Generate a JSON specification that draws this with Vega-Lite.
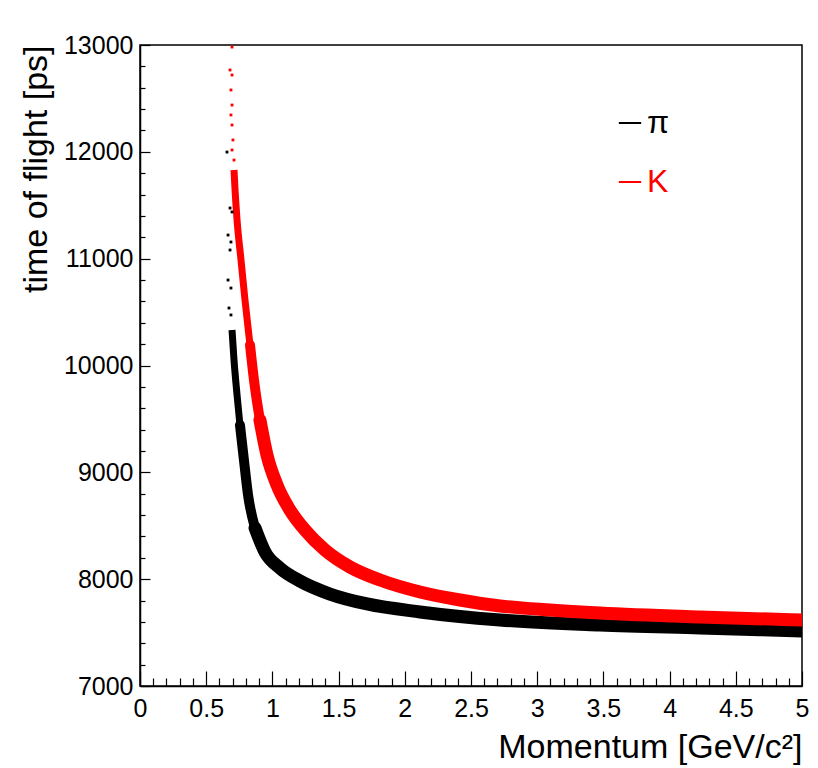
{
  "$schema": "https://vega.github.io/schema/vega-lite/v6.json",
  "autosize": {"type": "none"},
  "width": 662,
  "height": 641,
  "padding": {"left": 140, "top": 45, "right": 16, "bottom": 82},
  "background": "white",
  "view": {"stroke": "black", "strokeWidth": 1.5},
  "config": {
    "font": "Liberation Sans",
    "line": {"interpolate": "monotone", "strokeJoin": "round"},
    "axis": {"grid": false, "domainColor": "black", "domainWidth": 1.5, "tickColor": "black", "tickWidth": 1.2, "labelColor": "black", "titleColor": "black", "labelFont": "Liberation Sans", "titleFont": "Liberation Sans", "titleFontWeight": "normal", "labelFlush": false, "labelOverlap": false}
  },
  "datasets": {
    "band": [
      {"particle": "K", "p": 0.71, "t": 11830},
      {"particle": "K", "p": 0.718, "t": 11643},
      {"particle": "K", "p": 0.733, "t": 11362},
      {"particle": "K", "p": 0.763, "t": 10987},
      {"particle": "K", "p": 0.793, "t": 10613},
      {"particle": "K", "p": 0.831, "t": 10192},
      {"particle": "K", "p": 0.861, "t": 9864},
      {"particle": "K", "p": 0.906, "t": 9490},
      {"particle": "K", "p": 0.959, "t": 9162},
      {"particle": "K", "p": 1.035, "t": 8881},
      {"particle": "K", "p": 1.133, "t": 8647},
      {"particle": "K", "p": 1.246, "t": 8460},
      {"particle": "K", "p": 1.397, "t": 8273},
      {"particle": "K", "p": 1.586, "t": 8114},
      {"particle": "K", "p": 1.813, "t": 7992},
      {"particle": "K", "p": 2.115, "t": 7880},
      {"particle": "K", "p": 2.417, "t": 7805},
      {"particle": "K", "p": 2.719, "t": 7749},
      {"particle": "K", "p": 3.097, "t": 7711},
      {"particle": "K", "p": 3.474, "t": 7683},
      {"particle": "K", "p": 4.23, "t": 7646},
      {"particle": "K", "p": 5.0, "t": 7618},
      {"particle": "π", "p": 0.695, "t": 10332},
      {"particle": "π", "p": 0.71, "t": 10051},
      {"particle": "π", "p": 0.733, "t": 9724},
      {"particle": "π", "p": 0.755, "t": 9443},
      {"particle": "π", "p": 0.785, "t": 9115},
      {"particle": "π", "p": 0.816, "t": 8788},
      {"particle": "π", "p": 0.869, "t": 8479},
      {"particle": "π", "p": 0.944, "t": 8254},
      {"particle": "π", "p": 1.057, "t": 8104},
      {"particle": "π", "p": 1.208, "t": 7983},
      {"particle": "π", "p": 1.435, "t": 7861},
      {"particle": "π", "p": 1.715, "t": 7768},
      {"particle": "π", "p": 2.115, "t": 7693},
      {"particle": "π", "p": 2.719, "t": 7618},
      {"particle": "π", "p": 3.474, "t": 7571},
      {"particle": "π", "p": 4.23, "t": 7543},
      {"particle": "π", "p": 5.0, "t": 7515}
    ],
    "dots": [
      {"particle": "K", "p": 0.695, "t": 12981},
      {"particle": "K", "p": 0.68, "t": 12766},
      {"particle": "K", "p": 0.695, "t": 12719},
      {"particle": "K", "p": 0.687, "t": 12579},
      {"particle": "K", "p": 0.695, "t": 12438},
      {"particle": "K", "p": 0.687, "t": 12345},
      {"particle": "K", "p": 0.695, "t": 12251},
      {"particle": "K", "p": 0.702, "t": 12111},
      {"particle": "K", "p": 0.695, "t": 12017},
      {"particle": "K", "p": 0.71, "t": 11923},
      {"particle": "π", "p": 0.657, "t": 11998},
      {"particle": "π", "p": 0.68, "t": 11474},
      {"particle": "π", "p": 0.695, "t": 11437},
      {"particle": "π", "p": 0.665, "t": 11221},
      {"particle": "π", "p": 0.687, "t": 11156},
      {"particle": "π", "p": 0.68, "t": 11081},
      {"particle": "π", "p": 0.665, "t": 10800},
      {"particle": "π", "p": 0.687, "t": 10725},
      {"particle": "π", "p": 0.672, "t": 10538},
      {"particle": "π", "p": 0.687, "t": 10473}
    ]
  },
  "layer": [
    {
      "data": {"name": "band"},
      "transform": [{"filter": "datum.particle === 'π'"}],
      "mark": {"type": "line", "strokeWidth": 7, "strokeCap": "butt", "clip": true},
      "encoding": {
        "x": {"field": "p", "type": "quantitative", "scale": {"domain": [0, 5], "nice": false, "zero": false},
          "axis": {"orient": "bottom", "values": [0, 0.5, 1, 1.5, 2, 2.5, 3, 3.5, 4, 4.5, 5], "tickSize": -15, "labelPadding": 25, "labelFontSize": 25, "labelExpr": "'' + datum.value", "labelBaseline": "top",
            "title": "Momentum [GeV/c²]", "titleFontSize": 34, "titleAnchor": "end", "titleAlign": "right", "titleBaseline": "alphabetic", "titleX": 662, "titleY": 71}},
        "y": {"field": "t", "type": "quantitative", "scale": {"domain": [7000, 13000], "nice": false, "zero": false},
          "axis": {"orient": "left", "values": [7000, 8000, 9000, 10000, 11000, 12000, 13000], "format": "d", "tickSize": -10, "labelPadding": 17, "labelFontSize": 25, "labelBaseline": "middle",
            "title": "time of flight [ps]", "titleFontSize": 34, "titleAnchor": "end", "titleAlign": "right", "titleBaseline": "alphabetic", "titleAngle": -90, "titleX": -94, "titleY": 0}},
        "color": {"field": "particle", "type": "nominal", "scale": {"domain": ["π", "K"], "range": ["#000000", "#ff0000"]},
          "legend": {"orient": "none", "legendX": 474, "legendY": 62, "title": null, "symbolType": "stroke", "symbolSize": 500, "symbolStrokeWidth": 2, "labelFontSize": 32, "labelFont": "Liberation Sans", "rowPadding": 27, "symbolOffset": 0, "labelOffset": 1,
            "labelColor": {"expr": "datum.label === 'K' ? '#ff0000' : '#000000'"},
            "encode": {"labels": {"update": {"fill": {"signal": "datum.label === 'K' ? '#ff0000' : '#000000'"}}}}}}
      }
    },
    {
      "data": {"name": "band"},
      "transform": [{"filter": "datum.particle === 'π' && datum.p >= 0.75"}],
      "mark": {"type": "line", "strokeWidth": 10, "strokeCap": "round", "clip": true},
      "encoding": {
        "x": {"field": "p", "type": "quantitative",
          "axis": {"orient": "bottom", "values": [0.1,0.2,0.3,0.4,0.6,0.7,0.8,0.9,1.1,1.2,1.3,1.4,1.6,1.7,1.8,1.9,2.1,2.2,2.3,2.4,2.6,2.7,2.8,2.9,3.1,3.2,3.3,3.4,3.6,3.7,3.8,3.9,4.1,4.2,4.3,4.4,4.6,4.7,4.8,4.9], "tickSize": -8, "labels": false, "domain": false, "title": null}},
        "y": {"field": "t", "type": "quantitative",
          "axis": {"orient": "left", "values": [7200,7400,7600,7800,8200,8400,8600,8800,9200,9400,9600,9800,10200,10400,10600,10800,11200,11400,11600,11800,12200,12400,12600,12800], "tickSize": -5, "labels": false, "domain": false, "title": null}},
        "color": {"field": "particle", "type": "nominal"}
      }
    },
    {
      "data": {"name": "band"},
      "transform": [{"filter": "datum.particle === 'π' && datum.p >= 0.85"}],
      "mark": {"type": "line", "strokeWidth": 13, "strokeCap": "round", "clip": true},
      "encoding": {
        "x": {"field": "p", "type": "quantitative", "axis": null},
        "y": {"field": "t", "type": "quantitative", "axis": null},
        "color": {"field": "particle", "type": "nominal"}
      }
    },
    {
      "data": {"name": "band"},
      "transform": [{"filter": "datum.particle === 'K'"}],
      "mark": {"type": "line", "strokeWidth": 7, "strokeCap": "butt", "clip": true},
      "encoding": {
        "x": {"field": "p", "type": "quantitative", "axis": null},
        "y": {"field": "t", "type": "quantitative", "axis": null},
        "color": {"field": "particle", "type": "nominal"}
      }
    },
    {
      "data": {"name": "band"},
      "transform": [{"filter": "datum.particle === 'K' && datum.p >= 0.8"}],
      "mark": {"type": "line", "strokeWidth": 10, "strokeCap": "round", "clip": true},
      "encoding": {
        "x": {"field": "p", "type": "quantitative", "axis": null},
        "y": {"field": "t", "type": "quantitative", "axis": null},
        "color": {"field": "particle", "type": "nominal"}
      }
    },
    {
      "data": {"name": "band"},
      "transform": [{"filter": "datum.particle === 'K' && datum.p >= 0.9"}],
      "mark": {"type": "line", "strokeWidth": 13, "strokeCap": "round", "clip": true},
      "encoding": {
        "x": {"field": "p", "type": "quantitative", "axis": null},
        "y": {"field": "t", "type": "quantitative", "axis": null},
        "color": {"field": "particle", "type": "nominal"}
      }
    },
    {
      "data": {"name": "dots"},
      "mark": {"type": "point", "shape": "square", "filled": true, "size": 8, "opacity": 1, "clip": true},
      "encoding": {
        "x": {"field": "p", "type": "quantitative", "axis": null},
        "y": {"field": "t", "type": "quantitative", "axis": null},
        "color": {"field": "particle", "type": "nominal"}
      }
    }
  ],
  "resolve": {"axis": {"x": "independent", "y": "independent"}}
}
